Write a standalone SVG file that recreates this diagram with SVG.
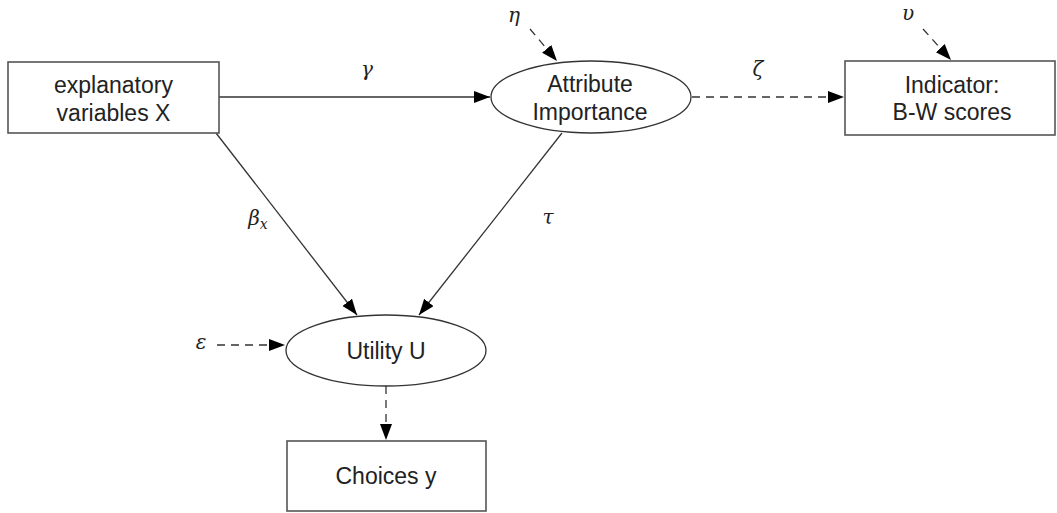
<svg xmlns="http://www.w3.org/2000/svg" width="1057" height="513" viewBox="0 0 1057 513">
<defs>
<marker id="arr" markerUnits="userSpaceOnUse" markerWidth="17" markerHeight="13" refX="16" refY="6" orient="auto">
<path d="M0,0 L16,6 L0,12 z" fill="#000"/>
</marker>
<style>
.box{fill:#fff;stroke:#555;stroke-width:1.6}
.ell{fill:#fff;stroke:#333;stroke-width:1.3}
.lbl{font-family:"Liberation Sans",Arial,sans-serif;font-size:23px;fill:#222;text-anchor:middle}
.gr{font-family:"DejaVu Serif","Liberation Serif",serif;font-style:italic;font-size:20px;fill:#222;text-anchor:middle}
.sub{font-size:14px}
.e{fill:none;stroke:#333;stroke-width:1.3;marker-end:url(#arr)}
.d{stroke-dasharray:8,6}
</style>
</defs>
<g id="connectors">
<line class="e" x1="219" y1="97" x2="490" y2="97"/>
<line class="e d" x1="692" y1="97" x2="844" y2="97"/>
<line class="e d" x1="530" y1="29" x2="557" y2="61"/>
<line class="e d" x1="923" y1="29" x2="951" y2="60"/>
<line class="e" x1="216" y1="133" x2="357" y2="315"/>
<line class="e" x1="562" y1="133" x2="419" y2="315"/>
<line class="e d" x1="217" y1="345" x2="285" y2="345"/>
<line class="e d" x1="386" y1="386" x2="386" y2="440"/>
<text class="gr" x="367" y="76">γ</text>
<text class="gr" x="758" y="76">ζ</text>
<text class="gr" x="514" y="22">η</text>
<text class="gr" x="908" y="20">υ</text>
<text class="gr" x="258" y="225">β<tspan class="sub" dy="4">x</tspan></text>
<text class="gr" x="548" y="224">τ</text>
<text class="gr" x="201" y="349">ε</text>
</g>
<g id="explanatory">
<rect class="box" x="8" y="62" width="211" height="71"/>
<text class="lbl" x="113.5" y="93">explanatory</text>
<text class="lbl" x="113.5" y="121">variables X</text>
</g>
<g id="attribute">
<ellipse class="ell" cx="591" cy="97" rx="100" ry="36"/>
<text class="lbl" x="590" y="92">Attribute</text>
<text class="lbl" x="590" y="120">Importance</text>
</g>
<g id="indicator">
<rect class="box" x="845" y="61" width="210" height="74"/>
<text class="lbl" x="952" y="93">Indicator:</text>
<text class="lbl" x="952" y="120">B-W scores</text>
</g>
<g id="utility">
<ellipse class="ell" cx="386" cy="350.5" rx="100" ry="35.5"/>
<text class="lbl" x="386" y="359">Utility U</text>
</g>
<g id="choices">
<rect class="box" x="287" y="441" width="199" height="70"/>
<text class="lbl" x="386" y="484">Choices y</text>
</g>
</svg>
